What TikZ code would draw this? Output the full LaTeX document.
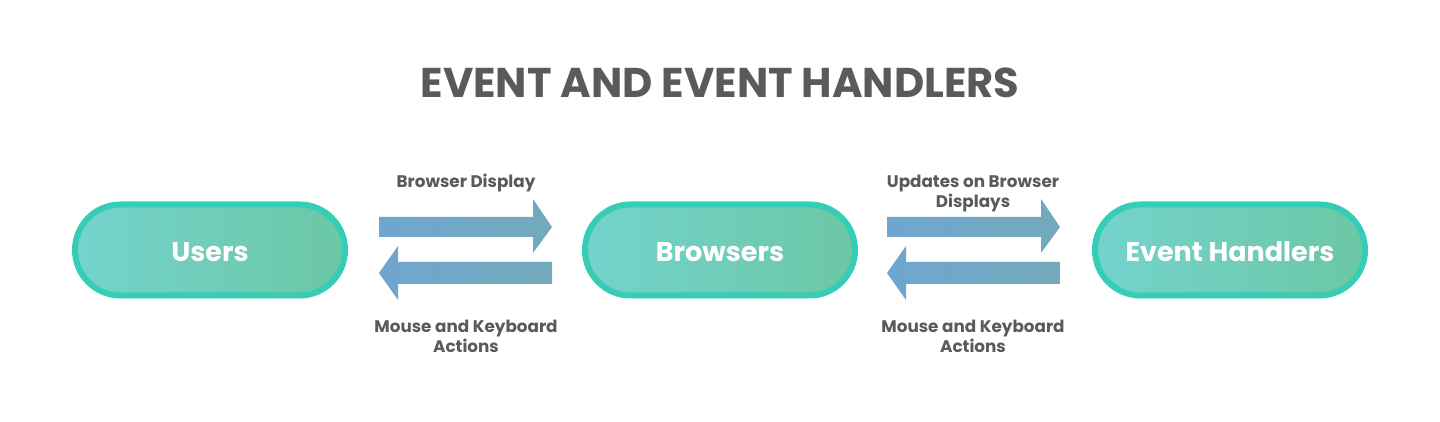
\documentclass[tikz,border=0pt]{standalone}
\usepackage{fontspec}
\setmainfont{Poppins}
\usetikzlibrary{positioning}
\definecolor{txtgray}{HTML}{5A5A5A}
\definecolor{pillrim}{HTML}{36CDB6}
\definecolor{pillL}{HTML}{74D3CC}
\definecolor{pillR}{HTML}{6CC7A5}
\definecolor{arrowL}{HTML}{6FA6D0}
\definecolor{arrowR}{HTML}{72AABB}
\begin{document}
\begin{tikzpicture}[x=.5pt,y=-.5pt,
  pill/.style={draw=pillrim,line width=3pt,rounded corners=22.75pt,minimum width=135pt,minimum height=45.5pt,left color=pillL,right color=pillR,text=white,text height=12pt,text depth=0pt,font=\bfseries\fontsize{13.5}{16}\selectfont},
  lbl/.style={text=txtgray,align=center,font=\bfseries\fontsize{8.4}{10}\selectfont},
  fat/.style={left color=arrowL,right color=arrowR}]
  \fill[white] (0,0) rectangle (1440,422);
  \useasboundingbox (0,0) rectangle (1440,422);
  % title
  \node[anchor=base,text=txtgray,font=\bfseries\fontsize{20.8}{24}\selectfont] (title) at (720,98) {EVENT AND EVENT HANDLERS};
  % pills
  \node[pill] (users) at (210,250) {Users};
  \node[pill,right=117pt of users] (browsers) {Browsers};
  \node[pill,right=117pt of browsers] (handlers) {Event Handlers};
  % arrows users <-> browsers
  \coordinate (r1) at (379,227);
  \coordinate (l1) at (379,273);
  \path[fat] (r1) ++(0,-10) -- ++(154,0) -- ++(0,-18) -- ++(19,28) -- ++(-19,26) -- ++(0,-16) -- ++(-154,0) -- cycle;
  \path[fat] (l1) -- ++(19,-27) -- ++(0,16) -- ++(154,0) -- ++(0,22) -- ++(-154,0) -- ++(0,16) -- cycle;
  % arrows browsers <-> handlers
  \coordinate (r2) at (887,227);
  \coordinate (l2) at (887,273);
  \path[fat] (r2) ++(0,-10) -- ++(154,0) -- ++(0,-18) -- ++(19,28) -- ++(-19,26) -- ++(0,-16) -- ++(-154,0) -- cycle;
  \path[fat] (l2) -- ++(19,-27) -- ++(0,16) -- ++(154,0) -- ++(0,22) -- ++(-154,0) -- ++(0,16) -- cycle;
  % labels
  \node[lbl,anchor=base] (disp) at (466,188) {Browser Display};
  \node[lbl] (mouse1) at (466,336) {Mouse and Keyboard\\Actions};
  \node[lbl] (upd) at (973,194) {Updates on Browser\\Displays};
  \node[lbl] (mouse2) at (973,336) {Mouse and Keyboard\\Actions};
\end{tikzpicture}
\end{document}
